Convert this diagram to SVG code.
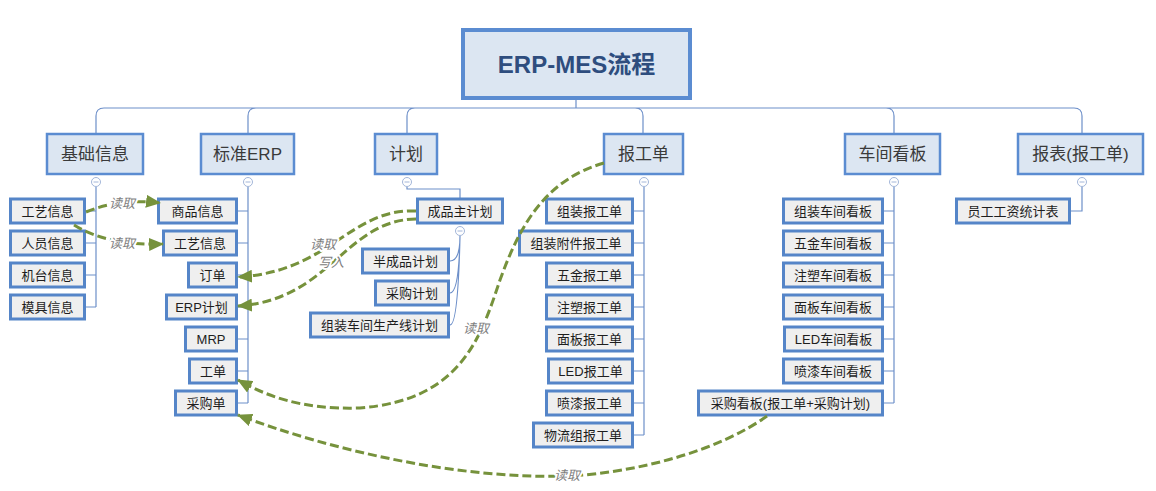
<svg xmlns="http://www.w3.org/2000/svg" width="1156" height="491" viewBox="0 0 1156 491">
<defs>
<style>
text{font-family:"Liberation Sans","Noto Sans CJK SC",sans-serif;text-anchor:middle;dominant-baseline:central}
.root rect{fill:#dce6f2;stroke:#5b8cd1;stroke-width:4}
.root text{font-size:24px;font-weight:bold;fill:#2e4d7e}
.l1 rect{fill:#dce6f2;stroke:#5b8cd1;stroke-width:2.5}
.l1 text{font-size:17px;fill:#3a3a3a}
.n rect{fill:#efefef;stroke:#5585c8;stroke-width:3}
.n text{font-size:13px;fill:#1e1e1e}
.tree{fill:none;stroke:#6d8fc9;stroke-width:1.2}
.col{fill:#fff;stroke:#a3b6d9;stroke-width:1}
.dash{fill:none;stroke:#76923c;stroke-width:3;stroke-dasharray:9 4;marker-end:url(#arr)}
.lbl{font-size:13px;font-style:italic;fill:#808080;stroke:#fff;stroke-width:4;paint-order:stroke;stroke-linejoin:round}
</style>
<marker id="arr" markerUnits="userSpaceOnUse" markerWidth="15" markerHeight="13" viewBox="0 0 15 13" refX="14" refY="6.5" orient="auto">
<path d="M0,0 L15,6.5 L0,13 z" fill="#76923c"/>
</marker>
</defs>

<g id="tree-lines">
<path class="tree" d="M576,100 V108 M104,108 H1074 M96,133 V116 Q96,108 104,108 M248,133 V116 Q248,108 256,108 M407,133 V116 Q407,108 415,108 M643,133 V116 Q643,108 635,108 M894,133 V116 Q894,108 886,108 M1082,133 V116 Q1082,108 1074,108"/>
<path class="tree" d="M96,187 V307 M86,211 H96 M86,243 H96 M86,275 H96 M86,307 H96"/>
<path class="tree" d="M248,187 V403 M238,211 H248 M238,243 H248 M238,275 H248 M238,307 H248 M238,339 H248 M238,371 H248 M238,403 H248"/>
<path class="tree" d="M407,187 V189 H460 V198"/>
<path class="tree" d="M460,236 Q460,261 450,261 M460,236 Q459,293 450,293 M460,236 Q458,325 450,325"/>
<path class="tree" d="M644,187 V435 M634,211 H644 M634,243 H644 M634,275 H644 M634,307 H644 M634,339 H644 M634,371 H644 M634,403 H644 M634,435 H644"/>
<path class="tree" d="M894,187 V403 M884,211 H894 M884,243 H894 M884,275 H894 M884,307 H894 M884,339 H894 M884,371 H894 M884,403 H894"/>
<path class="tree" d="M1082,187 V211 H1071"/>
<g>
<circle class="col" cx="96" cy="182" r="4.5"/><circle class="col" cx="248" cy="182" r="4.5"/><circle class="col" cx="407" cy="182" r="4.5"/><circle class="col" cx="644" cy="182" r="4.5"/><circle class="col" cx="894" cy="182" r="4.5"/><circle class="col" cx="1082" cy="182" r="4.5"/><circle class="col" cx="460" cy="231" r="4.5"/>
<path stroke="#a3b6d9" stroke-width="1" d="M93.5,182 H98.5 M245.5,182 H250.5 M404.5,182 H409.5 M641.5,182 H646.5 M891.5,182 H896.5 M1079.5,182 H1084.5 M457.5,231 H462.5"/>
</g>
</g>

<g id="root" class="root"><rect x="463" y="30" width="227" height="68"/><text x="576.5" y="64">ERP-MES流程</text></g>

<g id="jichuxinxi" class="l1"><rect x="47" y="134" width="96" height="40"/><text x="95" y="154">基础信息</text></g>
<g id="biaozhunerp" class="l1"><rect x="201" y="134" width="93" height="40"/><text x="247.5" y="154">标准ERP</text></g>
<g id="jihua" class="l1"><rect x="375" y="134" width="62" height="40"/><text x="406" y="154">计划</text></g>
<g id="baogongdan" class="l1"><rect x="604" y="134" width="79" height="40"/><text x="643.5" y="154">报工单</text></g>
<g id="chejiankanban" class="l1"><rect x="845" y="134" width="95" height="40"/><text x="892.5" y="154">车间看板</text></g>
<g id="baobiao" class="l1"><rect x="1018" y="134" width="125" height="40"/><text x="1080.5" y="154">报表(报工单)</text></g>

<g id="a-gongyi" class="n"><rect x="10.5" y="199" width="74" height="24"/><text x="47.5" y="211">工艺信息</text></g>
<g id="a-renyuan" class="n"><rect x="10.5" y="231" width="74" height="24"/><text x="47.5" y="243">人员信息</text></g>
<g id="a-jitai" class="n"><rect x="10.5" y="263" width="74" height="24"/><text x="47.5" y="275">机台信息</text></g>
<g id="a-muju" class="n"><rect x="10.5" y="295" width="74" height="24"/><text x="47.5" y="307">模具信息</text></g>

<g id="b-shangpin" class="n"><rect x="158.5" y="199" width="78" height="24"/><text x="197.5" y="211">商品信息</text></g>
<g id="b-gongyi" class="n"><rect x="163.5" y="231" width="73" height="24"/><text x="200" y="243">工艺信息</text></g>
<g id="b-dingdan" class="n"><rect x="188.5" y="263" width="48" height="24"/><text x="212.5" y="275">订单</text></g>
<g id="b-erpjihua" class="n"><rect x="166.5" y="295" width="70" height="24"/><text x="201.5" y="307">ERP计划</text></g>
<g id="b-mrp" class="n"><rect x="185.5" y="327" width="51" height="24"/><text x="211" y="339">MRP</text></g>
<g id="b-gongdan" class="n"><rect x="189.5" y="359" width="47" height="24"/><text x="213" y="371">工单</text></g>
<g id="b-caigoudan" class="n"><rect x="175.5" y="391" width="61" height="24"/><text x="206" y="403">采购单</text></g>

<g id="c-chengpin" class="n"><rect x="417.5" y="199" width="85" height="24"/><text x="460" y="211">成品主计划</text></g>
<g id="c-banchengpin" class="n"><rect x="362.5" y="249" width="86" height="24"/><text x="405.5" y="261">半成品计划</text></g>
<g id="c-caigou" class="n"><rect x="375.5" y="281" width="73" height="24"/><text x="412" y="293">采购计划</text></g>
<g id="c-zuzhuang" class="n"><rect x="310.5" y="313" width="138" height="24"/><text x="379.5" y="325">组装车间生产线计划</text></g>

<g id="d-zuzhuang" class="n"><rect x="546.5" y="199" width="86" height="24"/><text x="589.5" y="211">组装报工单</text></g>
<g id="d-fujian" class="n"><rect x="519.5" y="231" width="113" height="24"/><text x="576" y="243">组装附件报工单</text></g>
<g id="d-wujin" class="n"><rect x="546.5" y="263" width="86" height="24"/><text x="589.5" y="275">五金报工单</text></g>
<g id="d-zhusu" class="n"><rect x="546.5" y="295" width="86" height="24"/><text x="589.5" y="307">注塑报工单</text></g>
<g id="d-mianban" class="n"><rect x="546.5" y="327" width="86" height="24"/><text x="589.5" y="339">面板报工单</text></g>
<g id="d-led" class="n"><rect x="548.5" y="359" width="84" height="24"/><text x="590.5" y="371">LED报工单</text></g>
<g id="d-penqi" class="n"><rect x="546.5" y="391" width="86" height="24"/><text x="589.5" y="403">喷漆报工单</text></g>
<g id="d-wuliu" class="n"><rect x="533.5" y="423" width="99" height="24"/><text x="583" y="435">物流组报工单</text></g>

<g id="e-zuzhuang" class="n"><rect x="783.5" y="199" width="99" height="24"/><text x="833" y="211">组装车间看板</text></g>
<g id="e-wujin" class="n"><rect x="783.5" y="231" width="99" height="24"/><text x="833" y="243">五金车间看板</text></g>
<g id="e-zhusu" class="n"><rect x="783.5" y="263" width="99" height="24"/><text x="833" y="275">注塑车间看板</text></g>
<g id="e-mianban" class="n"><rect x="783.5" y="295" width="99" height="24"/><text x="833" y="307">面板车间看板</text></g>
<g id="e-led" class="n"><rect x="784.5" y="327" width="98" height="24"/><text x="833.5" y="339">LED车间看板</text></g>
<g id="e-penqi" class="n"><rect x="783.5" y="359" width="99" height="24"/><text x="833" y="371">喷漆车间看板</text></g>
<g id="e-caigou" class="n"><rect x="698.5" y="391" width="184" height="24"/><text x="790.5" y="403">采购看板(报工单+采购计划)</text></g>

<g id="f-gongzi" class="n"><rect x="956.5" y="199" width="113" height="24"/><text x="1013" y="211">员工工资统计表</text></g>

<g id="connectors">
<path class="dash" d="M86,212 Q120,198 160,203"/>
<path class="dash" d="M74,225 Q108,246 163,244"/>
<path class="dash" d="M416,211 C350,208 330,272 238,277"/>
<path class="dash" d="M416,219 C345,220 330,300 238,306"/>
<path class="dash" d="M604,163 C545,180 520,225 500,280 C480,340 460,400 360,408 C300,410 265,395 238,380"/>
<path class="dash" d="M767,416 C720,450 640,472 570,476 C460,480 330,450 238,415"/>
<text class="lbl" x="122" y="203">读取</text>
<text class="lbl" x="122" y="243">读取</text>
<text class="lbl" x="323" y="244">读取</text>
<text class="lbl" x="331" y="262">写入</text>
<text class="lbl" x="476" y="328">读取</text>
<text class="lbl" x="567" y="475">读取</text>
</g>
</svg>
